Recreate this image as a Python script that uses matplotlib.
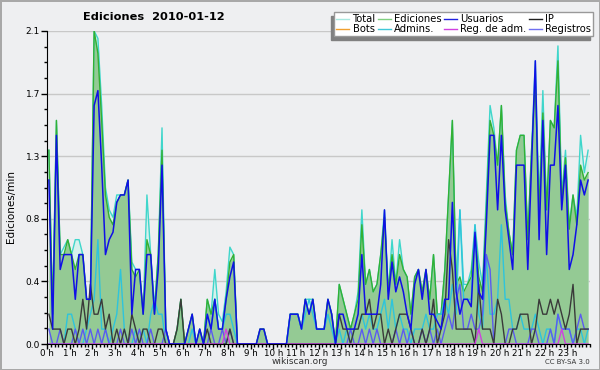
import numpy as np
import matplotlib
matplotlib.use("Agg")
from matplotlib import pyplot as plt
from matplotlib.lines import Line2D
from matplotlib.patches import Rectangle

# one value per 10 minutes (edits per minute), 6 values per hour
ediciones = [
    1.3, 0.2, 1.5, 0.6, 0.6, 0.7,      # 0 h
    0.6, 0.5, 0.6, 0.6, 0.3, 0.3,      # 1 h
    2.1, 1.95, 1.5, 1.0, 0.85, 0.8,    # 2 h
    0.95, 1.0, 1.0, 1.1, 0.5, 0.45,    # 3 h
    0.5, 0.2, 0.7, 0.6, 0.2, 0.6,      # 4 h
    1.3, 0.1, 0.0, 0.0, 0.1, 0.3,      # 5 h
    0.0, 0.1, 0.2, 0.0, 0.1, 0.0,      # 6 h
    0.3, 0.2, 0.3, 0.1, 0.1, 0.3,      # 7 h
    0.55, 0.6, 0.0, 0.0, 0.0, 0.0,     # 8 h
    0.0, 0.0, 0.1, 0.1, 0.0, 0.0,      # 9 h
    0.0, 0.0, 0.0, 0.0, 0.2, 0.2,      # 10 h
    0.2, 0.1, 0.3, 0.2, 0.3, 0.1,      # 11 h
    0.1, 0.1, 0.3, 0.2, 0.0, 0.4,      # 12 h
    0.3, 0.2, 0.1, 0.2, 0.3, 0.8,      # 13 h
    0.4, 0.5, 0.35, 0.4, 0.6, 0.85,    # 14 h
    0.35, 0.6, 0.4, 0.6, 0.5, 0.45,    # 15 h
    0.2, 0.45, 0.5, 0.35, 0.5, 0.3,    # 16 h
    0.6, 0.2, 0.2, 0.5, 1.0, 1.5,      # 17 h
    0.4, 0.45, 0.35, 0.4, 0.45, 0.75,  # 18 h
    0.45, 0.35, 0.9, 1.5, 1.4, 1.2,    # 19 h
    1.6, 0.95, 0.75, 0.6, 1.3, 1.4,    # 20 h
    1.4, 0.7, 1.3, 1.75, 0.9, 1.55,    # 21 h
    0.9, 1.5, 1.45, 1.9, 0.95, 1.25,   # 22 h
    0.77, 1.0, 0.8, 1.2, 1.1, 1.15,    # 23 h
]

total = [
    1.3, 0.2, 1.5, 0.6, 0.65, 0.7,
    0.6, 0.7, 0.7, 0.6, 0.3, 0.3,
    2.1, 2.05, 1.6, 1.05, 0.9, 0.85,
    1.0, 1.0, 1.0, 1.1, 0.55, 0.5,
    0.5, 0.2, 1.0, 0.6, 0.25, 0.6,
    1.45, 0.1, 0.0, 0.0, 0.1, 0.3,
    0.0, 0.1, 0.2, 0.0, 0.1, 0.0,
    0.3, 0.2, 0.5, 0.2, 0.15, 0.35,
    0.65, 0.6, 0.0, 0.0, 0.0, 0.0,
    0.0, 0.0, 0.1, 0.1, 0.0, 0.0,
    0.0, 0.0, 0.0, 0.0, 0.2, 0.2,
    0.2, 0.1, 0.3, 0.3, 0.3, 0.1,
    0.1, 0.1, 0.3, 0.2, 0.0, 0.4,
    0.3, 0.2, 0.1, 0.2, 0.35, 0.9,
    0.4, 0.5, 0.35, 0.4, 0.6, 0.9,
    0.35, 0.7, 0.4, 0.7, 0.5, 0.45,
    0.2, 0.45, 0.5, 0.35, 0.5, 0.3,
    0.6, 0.2, 0.2, 0.5, 1.0, 1.5,
    0.4, 0.9, 0.4, 0.4, 0.5, 0.8,
    0.55, 0.4, 1.0, 1.6, 1.45, 1.2,
    1.6, 1.0, 0.75, 0.6, 1.3, 1.4,
    1.4, 0.7, 1.3, 1.9, 0.95, 1.7,
    0.9, 1.5, 1.45, 2.0, 1.0, 1.3,
    0.8, 1.0, 0.85, 1.4, 1.15, 1.3,
]

usuarios = [
    1.1, 0.1, 1.4, 0.5, 0.6, 0.6,
    0.6, 0.3, 0.6, 0.6, 0.3, 0.3,
    1.6, 1.7, 1.2, 0.6, 0.7, 0.75,
    0.95, 1.0, 1.0, 1.1, 0.2, 0.5,
    0.5, 0.2, 0.6, 0.6, 0.2, 0.5,
    1.2, 0.1, 0.0, 0.0, 0.0, 0.0,
    0.0, 0.1, 0.2, 0.0, 0.1, 0.0,
    0.2, 0.1, 0.3, 0.1, 0.1, 0.3,
    0.45, 0.55, 0.0, 0.0, 0.0, 0.0,
    0.0, 0.0, 0.1, 0.1, 0.0, 0.0,
    0.0, 0.0, 0.0, 0.0, 0.2, 0.2,
    0.2, 0.1, 0.3, 0.2, 0.3, 0.1,
    0.1, 0.1, 0.3, 0.2, 0.0, 0.2,
    0.2, 0.1, 0.1, 0.1, 0.2, 0.6,
    0.2, 0.2, 0.2, 0.2, 0.4, 0.9,
    0.3, 0.55, 0.35, 0.45, 0.35, 0.2,
    0.1, 0.4, 0.5, 0.3, 0.5, 0.2,
    0.2, 0.15, 0.1, 0.3, 0.3, 0.95,
    0.35, 0.2, 0.3, 0.3, 0.25, 0.75,
    0.35, 0.3, 0.8, 1.4, 1.4, 0.9,
    1.4, 0.9, 0.7, 0.5, 1.2, 1.2,
    1.2, 0.5, 1.2, 1.9, 0.7, 1.5,
    0.6, 1.2, 1.2, 1.6, 0.9, 1.2,
    0.5, 0.6, 0.8, 1.1, 1.0, 1.1,
]

ip = [
    0.2, 0.1, 0.1, 0.1, 0.0, 0.1,
    0.1, 0.0, 0.1, 0.3, 0.1, 0.4,
    0.2, 0.2, 0.3, 0.1, 0.2, 0.0,
    0.1, 0.0, 0.1, 0.0, 0.2, 0.1,
    0.0, 0.1, 0.1, 0.0, 0.0, 0.1,
    0.1, 0.0, 0.0, 0.0, 0.1, 0.3,
    0.0, 0.0, 0.0, 0.0, 0.0, 0.0,
    0.1, 0.0, 0.0, 0.0, 0.0, 0.0,
    0.1, 0.0, 0.0, 0.0, 0.0, 0.0,
    0.0, 0.0, 0.0, 0.0, 0.0, 0.0,
    0.0, 0.0, 0.0, 0.0, 0.0, 0.0,
    0.0, 0.0, 0.0, 0.0, 0.0, 0.0,
    0.0, 0.0, 0.0, 0.0, 0.0, 0.2,
    0.1, 0.1, 0.0, 0.1, 0.1, 0.2,
    0.2, 0.3, 0.1, 0.2, 0.2, 0.0,
    0.1, 0.0, 0.1, 0.2, 0.2, 0.2,
    0.1, 0.0, 0.0, 0.1, 0.0, 0.1,
    0.3, 0.0, 0.1, 0.2, 0.7, 0.5,
    0.1, 0.1, 0.1, 0.1, 0.1, 0.0,
    0.4, 0.1, 0.1, 0.1, 0.0, 0.3,
    0.2, 0.0, 0.0, 0.1, 0.1, 0.2,
    0.2, 0.2, 0.0, 0.1, 0.3, 0.2,
    0.2, 0.3, 0.2, 0.3, 0.2, 0.1,
    0.2, 0.4, 0.0, 0.1, 0.1, 0.1,
]

admins = [
    0.0, 0.0, 0.0, 0.0, 0.0, 0.2,
    0.2, 0.1, 0.0, 0.0, 0.1, 0.2,
    0.3, 0.7, 0.1, 0.1, 0.0, 0.1,
    0.2, 0.5, 0.1, 0.0, 0.0, 0.1,
    0.0, 0.1, 0.0, 0.2, 0.3, 0.2,
    0.2, 0.0, 0.0, 0.0, 0.0, 0.0,
    0.0, 0.0, 0.1, 0.0, 0.0, 0.0,
    0.2, 0.1, 0.3, 0.1, 0.1, 0.2,
    0.2, 0.1, 0.0, 0.0, 0.0, 0.0,
    0.0, 0.0, 0.0, 0.0, 0.0, 0.0,
    0.0, 0.0, 0.0, 0.0, 0.2, 0.2,
    0.2, 0.1, 0.2, 0.3, 0.2, 0.1,
    0.1, 0.1, 0.2, 0.1, 0.0, 0.1,
    0.0, 0.1, 0.0, 0.1, 0.1, 0.2,
    0.1, 0.2, 0.1, 0.1, 0.2, 0.3,
    0.1, 0.3, 0.1, 0.2, 0.1, 0.1,
    0.0, 0.1, 0.1, 0.1, 0.2, 0.1,
    0.1, 0.2, 0.2, 0.3, 0.2, 0.4,
    0.2, 0.9, 0.3, 0.3, 0.3, 0.8,
    0.2, 0.1, 0.6, 0.2, 0.2, 0.3,
    0.8, 0.3, 0.3, 0.1, 0.1, 0.2,
    0.1, 0.1, 0.1, 0.2, 0.1, 0.0,
    0.1, 0.1, 0.0, 0.2, 0.1, 0.1,
    0.1, 0.0, 0.1, 0.1, 0.0, 0.1,
]

registros = [
    0.1, 0.0, 0.0, 0.1, 0.0, 0.0,
    0.0, 0.1, 0.0, 0.1, 0.0, 0.1,
    0.0, 0.1, 0.0, 0.1, 0.0, 0.0,
    0.0, 0.1, 0.0, 0.0, 0.1, 0.0,
    0.1, 0.0, 0.0, 0.1, 0.0, 0.0,
    0.0, 0.1, 0.0, 0.0, 0.0, 0.0,
    0.0, 0.0, 0.0, 0.0, 0.0, 0.0,
    0.0, 0.1, 0.0, 0.0, 0.1, 0.0,
    0.1, 0.0, 0.0, 0.0, 0.0, 0.0,
    0.0, 0.0, 0.0, 0.0, 0.0, 0.0,
    0.0, 0.0, 0.0, 0.0, 0.0, 0.0,
    0.0, 0.0, 0.0, 0.0, 0.0, 0.0,
    0.0, 0.0, 0.0, 0.0, 0.0, 0.0,
    0.0, 0.0, 0.1, 0.0, 0.0, 0.1,
    0.0, 0.1, 0.0, 0.1, 0.0, 0.0,
    0.0, 0.0, 0.1, 0.0, 0.1, 0.0,
    0.1, 0.0, 0.0, 0.1, 0.0, 0.1,
    0.0, 0.1, 0.0, 0.1, 0.2, 0.1,
    0.3, 0.4, 0.1, 0.1, 0.2, 0.1,
    0.1, 0.2, 0.6, 0.5, 0.0, 0.0,
    0.0, 0.0, 0.1, 0.1, 0.0, 0.0,
    0.0, 0.0, 0.1, 0.1, 0.0, 0.0,
    0.0, 0.1, 0.0, 0.2, 0.1, 0.1,
    0.1, 0.0, 0.1, 0.2, 0.1, 0.1,
]

reg_adm = [0.0] * 144
reg_adm[47] = 0.1
reg_adm[114] = 0.1
reg_adm[136] = 0.1

hour_labels = [f"{h} h" for h in range(24)]
y_ticks = np.linspace(0, 2.1, 6)

bg = '#eeeff1'
t = np.arange(len(total)) / 6 + 1 / 12

fig = plt.figure(figsize=(6, 3.7), dpi=100, facecolor=bg)
fig.patch.set_edgecolor('#a8a8a8')
fig.patch.set_linewidth(2)
ax = fig.add_axes([47 / 600, 1 - 344 / 370, 543 / 600, 313 / 370])
ax.set_facecolor(bg)

# Total and Ediciones as filled areas
ax.fill_between(t, total, color='#d6f1ec', lw=0)
ax.plot(t, total, color='#3fd6cb', lw=1.0)
ax.fill_between(t, ediciones, color='#94ca94', lw=0)
ax.plot(t, ediciones, color='#33b033', lw=1.0)
ax.plot(t, admins, color='#2ec4dc', lw=1.0)
ax.plot(t, registros, color='#5b5bf0', lw=1.0)
ax.plot(t, ip, color='#3a3a3a', lw=1.0)
ax.plot(t, reg_adm, color='#d040e0', lw=1.0)
ax.plot(t, usuarios, color='#1010e6', lw=1.1)

ax.set_xlim(0, 24)
ax.set_ylim(0, 2.1)
ax.set_xticks(range(24))
ax.set_xticklabels(hour_labels, fontsize=6.3)
ax.set_xticks(np.arange(0, 24.01, 1 / 6), minor=True)
ax.set_yticks(y_ticks)
ax.set_yticklabels([f"{v:.1f}" for v in y_ticks], fontsize=6.5)
ax.tick_params(axis='x', which='major', length=3.5, width=1, pad=0)
ax.tick_params(axis='y', which='major', length=4, width=1, pad=1)
ax.set_yticks(np.arange(0, 2.11, 0.105), minor=True)
ax.tick_params(which='minor', length=2.5, width=1)
ax.grid(axis='y', color='#c8c8c8', lw=1)
ax.set_axisbelow(True)
for s in ['top', 'right']:
    ax.spines[s].set_visible(False)
ax.set_ylabel('Ediciones/min', fontsize=7.5)
ax.yaxis.set_label_coords(-0.058, 0.44)

fig.text(154 / 600, 1 - 17 / 370, 'Ediciones  2010-01-12', fontsize=8.2,
         fontweight='bold', ha='center', va='center')
fig.text(300 / 600, 1 - 362 / 370, 'wikiscan.org', fontsize=6.5,
         ha='center', va='center', color='#333333')
fig.text(590 / 600, 1 - 362.5 / 370, 'CC BY-SA 3.0', fontsize=5,
         ha='right', va='center', color='#333333')

names = ['Total', 'Bots', 'Ediciones', 'Admins.', 'Usuarios', 'Reg. de adm.',
         'IP', 'Registros']
colors = ['#a8e8e0', '#f0a030', '#80d080', '#40c8d8', '#2020e0', '#d040e0',
          '#202020', '#7070f0']
handles = [Line2D([], [], color=c, lw=1) for c in colors]
leg = fig.legend(handles, names, ncol=4, loc='upper right',
                 bbox_to_anchor=(593 / 600, 1 - 12 / 370), fontsize=7.2,
                 frameon=True, fancybox=False, borderaxespad=0,
                 handlelength=1.3, handletextpad=0.35, columnspacing=0.2,
                 labelspacing=0.0, borderpad=0.2)
leg.get_frame().set_edgecolor('#999999')
leg.get_frame().set_linewidth(1)
leg.get_frame().set_facecolor('white')
leg.get_frame().set_alpha(1)

# shadow under the legend, offset left and down
fig.canvas.draw()
bb = leg.get_window_extent().transformed(fig.transFigure.inverted())
fig.patches.append(Rectangle((bb.x0 - 3 / 600, bb.y0 - 4 / 370), bb.width, bb.height,
                             transform=fig.transFigure, color='#808080', zorder=4))
leg.set_zorder(5)

fig.savefig('out.png', dpi=100, facecolor=bg, edgecolor='#a8a8a8')
